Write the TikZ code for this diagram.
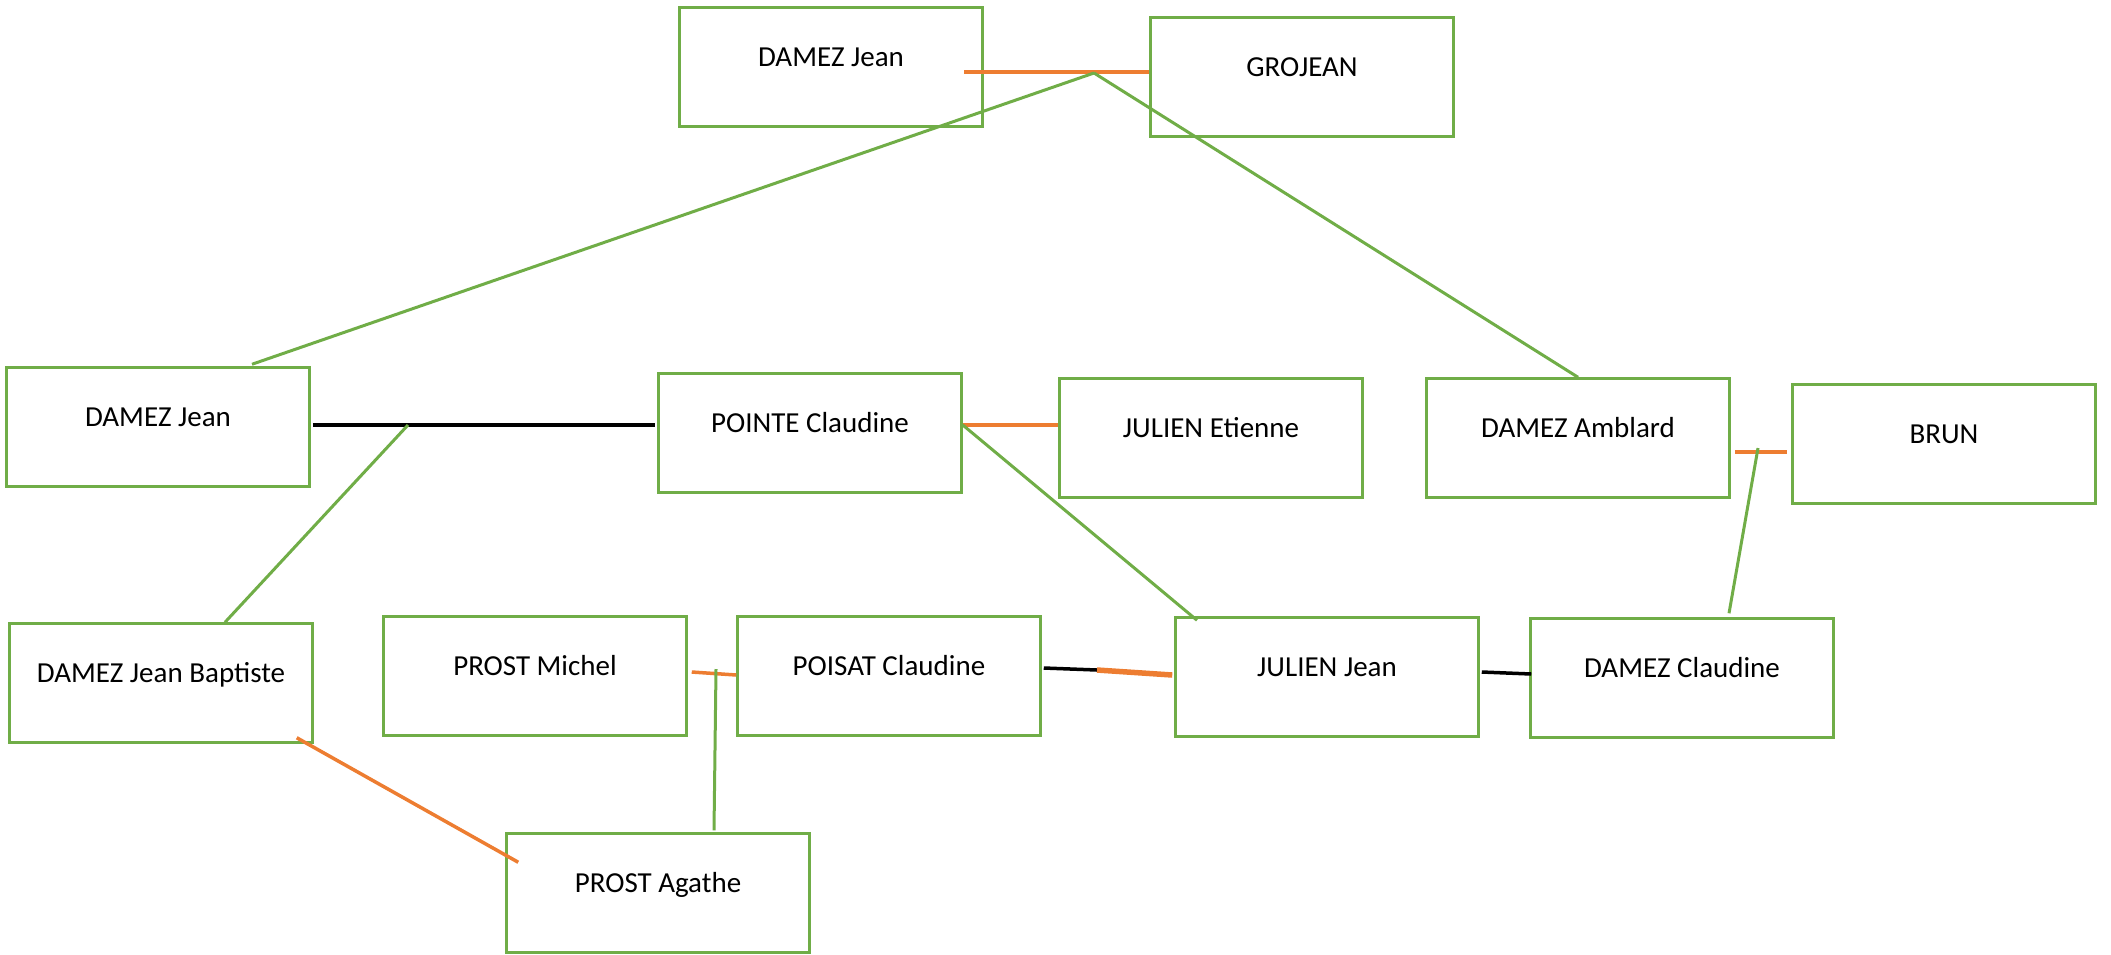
\documentclass[tikz,border=0pt]{standalone}
\usepackage{fontspec}
\setmainfont{Carlito}
\usetikzlibrary{calc}

\definecolor{boxgreen}{HTML}{70AD47}
\definecolor{linkorange}{HTML}{ED7D31}

\tikzstyle{person} = [rectangle, minimum width=303pt, minimum height=119pt, inner sep=0pt, text centered, text height=20pt, text depth=22pt, draw=boxgreen, line width=2.5pt, font=\fontsize{29}{35}\selectfont]
\tikzstyle{couple} = [line width=3.5pt, draw=linkorange]
\tikzstyle{union} = [line width=3.5pt, draw=black]
\tikzstyle{descent} = [line width=3pt, draw=boxgreen]

\begin{document}
\begin{tikzpicture}[x=1pt, y=-1pt]
	\useasboundingbox (0,0) rectangle (2111,954);

	\node (damezjean1) [person] at (831,67) {DAMEZ Jean};
	\node (grojean) [person] at (1302,77) {GROJEAN};
	\node (damezjean2) [person] at (158,427) {DAMEZ Jean};
	\node (pointe) [person] at (810,433) {POINTE Claudine};
	\node (julienetienne) [person] at (1211,438) {JULIEN Etienne};
	\node (amblard) [person] at (1578,438) {DAMEZ Amblard};
	\node (brun) [person] at (1944,444) {BRUN};
	\node (jeanbaptiste) [person] at (161,683) {DAMEZ Jean Baptiste};
	\node (michel) [person] at (535,676) {PROST Michel};
	\node (poisat) [person] at (889,676) {POISAT Claudine};
	\node (julienjean) [person] at (1327,677) {JULIEN Jean};
	\node (damezclaudine) [person] at (1682,678) {DAMEZ Claudine};
	\node (agathe) [person] at (658,893) {PROST Agathe};

	\coordinate (m1) at (1094,73);
	\coordinate (m2) at (408,425);
	\coordinate (m4) at (1758,448);
	\coordinate (m5) at (716,669);
	\coordinate (m6) at (1097,670);

	\draw [couple] ($(damezjean1.east)+(-19.5,5)$) -- ($(grojean.west)+(0,-5)$);
	\draw [descent] (m1) -- ($(damezjean2.north)+(94,-2)$);
	\draw [descent] (m1) -- (amblard.north);

	\draw [union] ($(damezjean2.east)+(2,-2)$) -- ($(pointe.west)+(-2,-8)$);
	\draw [descent] (m2) -- ($(jeanbaptiste.north)+(64,0)$);

	\draw [couple] ($(pointe.east)+(0,-8)$) -- ($(julienetienne.west)+(0,-13)$);
	\draw [descent] ($(pointe.east)+(0,-8)$) -- ($(julienjean.north)+(-130,4)$);

	\draw [couple] ($(amblard.east)+(4,14)$) -- ($(brun.west)+(-4,8)$);
	\draw [descent] (m4) -- ($(damezclaudine.north)+(47,-4)$);

	\draw [couple] ($(michel.east)+(4,-4)$) -- ($(poisat.west)+(0,-1)$);
	\draw [descent] (m5) -- ($(agathe.north)+(56,-2)$);

	\draw [union] ($(poisat.east)+(2,-8)$) -- (m6);
	\draw [couple, line width=5.5pt] (m6) -- ($(julienjean.west)+(-2,-2)$);
	\draw [union] ($(julienjean.east)+(2,-5)$) -- ($(damezclaudine.west)+(2,-4)$);

	\draw [couple] ($(jeanbaptiste.south east)+(-17,-6)$) -- ($(agathe.north west)+(13,30)$);
\end{tikzpicture}
\end{document}
